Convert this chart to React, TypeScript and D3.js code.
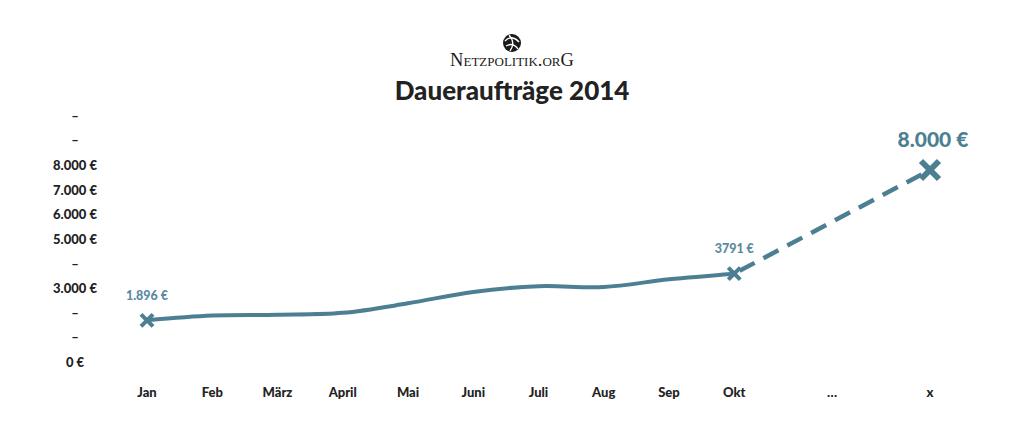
import * as React from "react";
import * as d3 from "d3";

const months = ["Jan", "Feb", "März", "April", "Mai", "Juni", "Juli", "Aug", "Sep", "Okt", "…", "x"];
const actualValues = [1896, 2090, 2120, 2200, 2585, 3050, 3280, 3250, 3560, 3791];
const targetValue = 8000;
const yTicks = [0, 1000, 2000, 3000, 4000, 5000, 6000, 7000, 8000, 9000, 10000];
const yTickLabels = ["0 €", "–", "–", "3.000 €", "–", "5.000 €", "6.000 €", "7.000 €", "8.000 €", "–", "–"];
const pointLabels = ["1.896 €", "3791 €", "8.000 €"];

const W = 1024;
const H = 432;
const LINE = "#4d7f93";
const LABEL = "#5a8ba1";
const FONT = "Lato, 'Open Sans', sans-serif";

// slot on the x axis: the "…" column sits between Okt and x
const slot = (i: number) => (i < 10 ? i : i === 10 ? 10.5 : 12);

const Cross = ({ cx, cy, r, sw }: { cx: number; cy: number; r: number; sw: number }) => (
  <g stroke={LINE} strokeWidth={sw}>
    <line x1={cx - r} y1={cy - r} x2={cx + r} y2={cy + r} />
    <line x1={cx - r} y1={cy + r} x2={cx + r} y2={cy - r} />
  </g>
);

export default function App() {
  const x = d3.scaleLinear().domain([0, 12]).range([147, 930]);
  const y = d3.scaleLinear().domain([0, 8000]).range([367, 170]);

  const line = d3
    .line<number>()
    .x((_, i) => x(slot(i)))
    .y((d) => y(d))
    .curve(d3.curveCatmullRom.alpha(0.2));

  const last = actualValues.length - 1;
  const okX = x(slot(last));
  const okY = y(actualValues[last]);
  const tX = x(slot(months.length - 1));
  const tY = y(targetValue);

  return (
    <svg width={W} height={H} style={{ display: "block", position: "absolute", left: 0, top: 0, background: "#fff" }}>
      {/* logo */}
      <g transform="translate(512,43)">
        <circle r={9} fill="#1a1a1a" />
        <path d="M-7,-2 Q0,-9 7,-1 M-6,3 Q1,-1 6,6 M-3,-8 Q4,0 -2,8" stroke="#fff" strokeWidth={1.3} fill="none" />
      </g>
      <text x={512} y={66} textAnchor="middle" fontFamily="'Liberation Serif', 'DejaVu Serif', serif" fontSize={18.5} fill="#1a1a1a" style={{ fontVariant: "small-caps" }}>
        Netzpolitik.orG
      </text>
      <text x={512} y={100} textAnchor="middle" fontFamily={FONT} fontWeight={900} fontSize={26} fill="#222">
        Daueraufträge 2014
      </text>

      {/* y axis labels */}
      {yTicks.map((t, i) => (
        <text key={t} x={75} y={y(t)} textAnchor="middle" fontFamily={FONT} fontWeight={900} fontSize={13} fill="#222">
          {yTickLabels[i]}
        </text>
      ))}

      {/* x axis labels */}
      {months.map((m, i) => (
        <text key={m} x={x(slot(i))} y={397} textAnchor="middle" fontFamily={FONT} fontWeight={900} fontSize={13} fill="#222">
          {m}
        </text>
      ))}

      <path d={line(actualValues) ?? ""} fill="none" stroke={LINE} strokeWidth={4} strokeLinecap="round" />
      <line x1={okX} y1={okY} x2={tX} y2={tY} stroke={LINE} strokeWidth={4.5} strokeDasharray="17 10" strokeDashoffset={-6} />

      <Cross cx={x(0)} cy={y(actualValues[0])} r={6} sw={4} />
      <Cross cx={okX} cy={okY} r={6} sw={4} />
      <Cross cx={tX} cy={tY} r={9} sw={6} />

      <text x={x(0)} y={y(actualValues[0]) - 20} textAnchor="middle" fontFamily={FONT} fontWeight={900} fontSize={12.5} fill={LABEL}>
        {pointLabels[0]}
      </text>
      <text x={okX} y={okY - 21} textAnchor="middle" fontFamily={FONT} fontWeight={900} fontSize={12.5} fill={LABEL}>
        {pointLabels[1]}
      </text>
      <text x={tX + 3} y={tY - 23} textAnchor="middle" fontFamily={FONT} fontWeight={900} fontSize={21} fill={LINE}>
        {pointLabels[2]}
      </text>
    </svg>
  );
}
